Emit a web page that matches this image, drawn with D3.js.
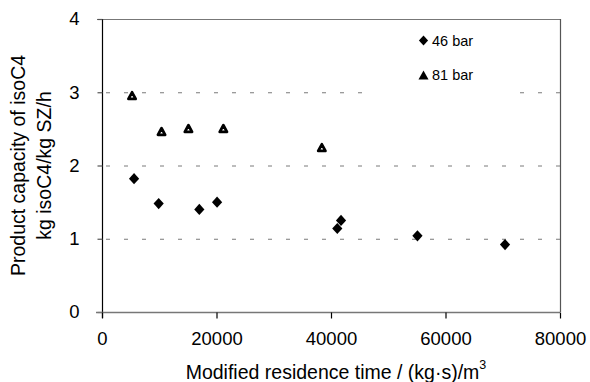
<!DOCTYPE html>
<html>
<head>
<meta charset="utf-8">
<script src="https://cdn.jsdelivr.net/npm/d3@7"></script>
<style>
  html, body { margin: 0; padding: 0; background: #fff; }
  svg { display: block; font-family: "Liberation Sans", Arial, sans-serif; }
</style>
</head>
<body>
<svg id="chart" width="590" height="382"></svg>
<script>
// ---- data ----
const series46X = [5600, 9900, 17000, 20100, 41100, 41750, 55100, 70400];
const series46Y = [1.82, 1.48, 1.40, 1.50, 1.14, 1.25, 1.04, 0.92];
const series81X = [5250, 10400, 15100, 21200, 38400];
const series81Y = [2.95, 2.46, 2.50, 2.50, 2.24];
const seriesNames = ["46 bar", "81 bar"];
const xTicks = [0, 20000, 40000, 60000, 80000];
const yTicks = [0, 1, 2, 3, 4];
const xTitle = "Modified residence time / (kg\u00B7s)/m";
const yTitle1 = "Product capacity of isoC4";
const yTitle2 = "kg isoC4/kg SZ/h";

const svg = d3.select("#chart");
const L = 102, R = 560, T = 19, B = 312;
const x = d3.scaleLinear().domain([0, 80000]).range([L, R]);
const y = d3.scaleLinear().domain([0, 4]).range([B, T]);

// gridlines
svg.append("g").selectAll("line")
  .data(yTicks.filter(d => d > 0 && d < 4))
  .join("line")
  .attr("x1", L).attr("x2", R)
  .attr("y1", d => y(d) + 0.5).attr("y2", d => y(d) + 0.5)
  .attr("stroke", "#7a7a7a").attr("stroke-width", 1)
  .attr("stroke-dasharray", "4,14").attr("stroke-dashoffset", -4);

// frame top and right
svg.append("line").attr("x1", L - 5).attr("x2", R + 0.5)
  .attr("y1", T + 0.5).attr("y2", T + 0.5)
  .attr("stroke", "#777").attr("stroke-width", 1.2);
svg.append("line").attr("x1", R + 0.5).attr("x2", R + 0.5)
  .attr("y1", T).attr("y2", B)
  .attr("stroke", "#555").attr("stroke-width", 1.2);

// legend background (hides gridline)
svg.append("rect").attr("x", 376).attr("y", 24).attr("width", 138).attr("height", 72)
  .attr("fill", "#fff");

// y axis
const yAxis = d3.axisLeft(y).tickValues(yTicks).tickSize(5).tickPadding(18)
  .tickFormat(d3.format("d"));
const gy = svg.append("g").attr("transform", `translate(${L + 0.5},0)`).call(yAxis);
gy.select(".domain").attr("stroke", "#000").attr("stroke-width", 1.2).attr("d", `M0,${T}V${B + 6}`);
gy.selectAll(".tick line").attr("stroke", "#555").attr("stroke-width", 1.2);
gy.selectAll(".tick text").attr("font-size", 18.5).attr("fill", "#000")
  .attr("font-family", "Liberation Sans, Arial, sans-serif");

// x axis
const xAxis = d3.axisBottom(x).tickValues(xTicks).tickSize(6).tickPadding(13)
  .tickFormat(d3.format("d"));
const gx = svg.append("g").attr("transform", `translate(0,${B + 0.5})`).call(xAxis);
gx.select(".domain").attr("stroke", "#777").attr("stroke-width", 1.5).attr("d", `M${L - 6},0H${R}`);
gx.selectAll(".tick line").attr("stroke", "#000").attr("stroke-width", 1.2);
gx.selectAll(".tick text").attr("font-size", 18.5).attr("fill", "#000")
  .attr("font-family", "Liberation Sans, Arial, sans-serif");

// markers
const diamond = "M0,-5.6L5.1,0L0,5.6L-5.1,0Z";
const tri = "M0,-3.6L3.6,3L-3.6,3Z";

svg.append("g").selectAll("path")
  .data(series46X.map((v, i) => [v, series46Y[i]]))
  .join("path")
  .attr("d", diamond)
  .attr("transform", d => `translate(${x(d[0])},${y(d[1])})`)
  .attr("fill", "#000");

svg.append("g").selectAll("path")
  .data(series81X.map((v, i) => [v, series81Y[i]]))
  .join("path")
  .attr("d", tri)
  .attr("transform", d => `translate(${x(d[0])},${y(d[1])})`)
  .attr("fill", "#fff").attr("stroke", "#000").attr("stroke-width", 2.8)
  .attr("stroke-linejoin", "round");

// legend
const lg = svg.append("g");
lg.append("path").attr("d", "M0,-5L4.6,0L0,5L-4.6,0Z")
  .attr("transform", "translate(423.5,40.5)").attr("fill", "#000");
lg.append("text").attr("x", 432).attr("y", 46).attr("font-size", 14.5).text(seriesNames[0]);
lg.append("path").attr("d", "M0,-4.5L5,4.5L-5,4.5Z")
  .attr("transform", "translate(423.5,75)").attr("fill", "#000");
lg.append("text").attr("x", 432).attr("y", 80).attr("font-size", 14.5).text(seriesNames[1]);

// x title
const xt = svg.append("text").attr("x", (L + R) / 2 + 5).attr("y", 379)
  .attr("text-anchor", "middle").attr("font-size", 19.5).attr("fill", "#000");
xt.append("tspan").text(xTitle);
xt.append("tspan").attr("font-size", 12.5).attr("dy", -10).text("3");

// y title
const yt = svg.append("g").attr("transform", `translate(0,${(T + B) / 2})rotate(-90)`);
yt.append("text").attr("x", 0).attr("y", 25).attr("text-anchor", "middle")
  .attr("font-size", 19.5).attr("fill", "#000").text(yTitle1);
yt.append("text").attr("x", 0).attr("y", 51).attr("text-anchor", "middle")
  .attr("font-size", 19.5).attr("fill", "#000").text(yTitle2);
</script>
</body>
</html>
